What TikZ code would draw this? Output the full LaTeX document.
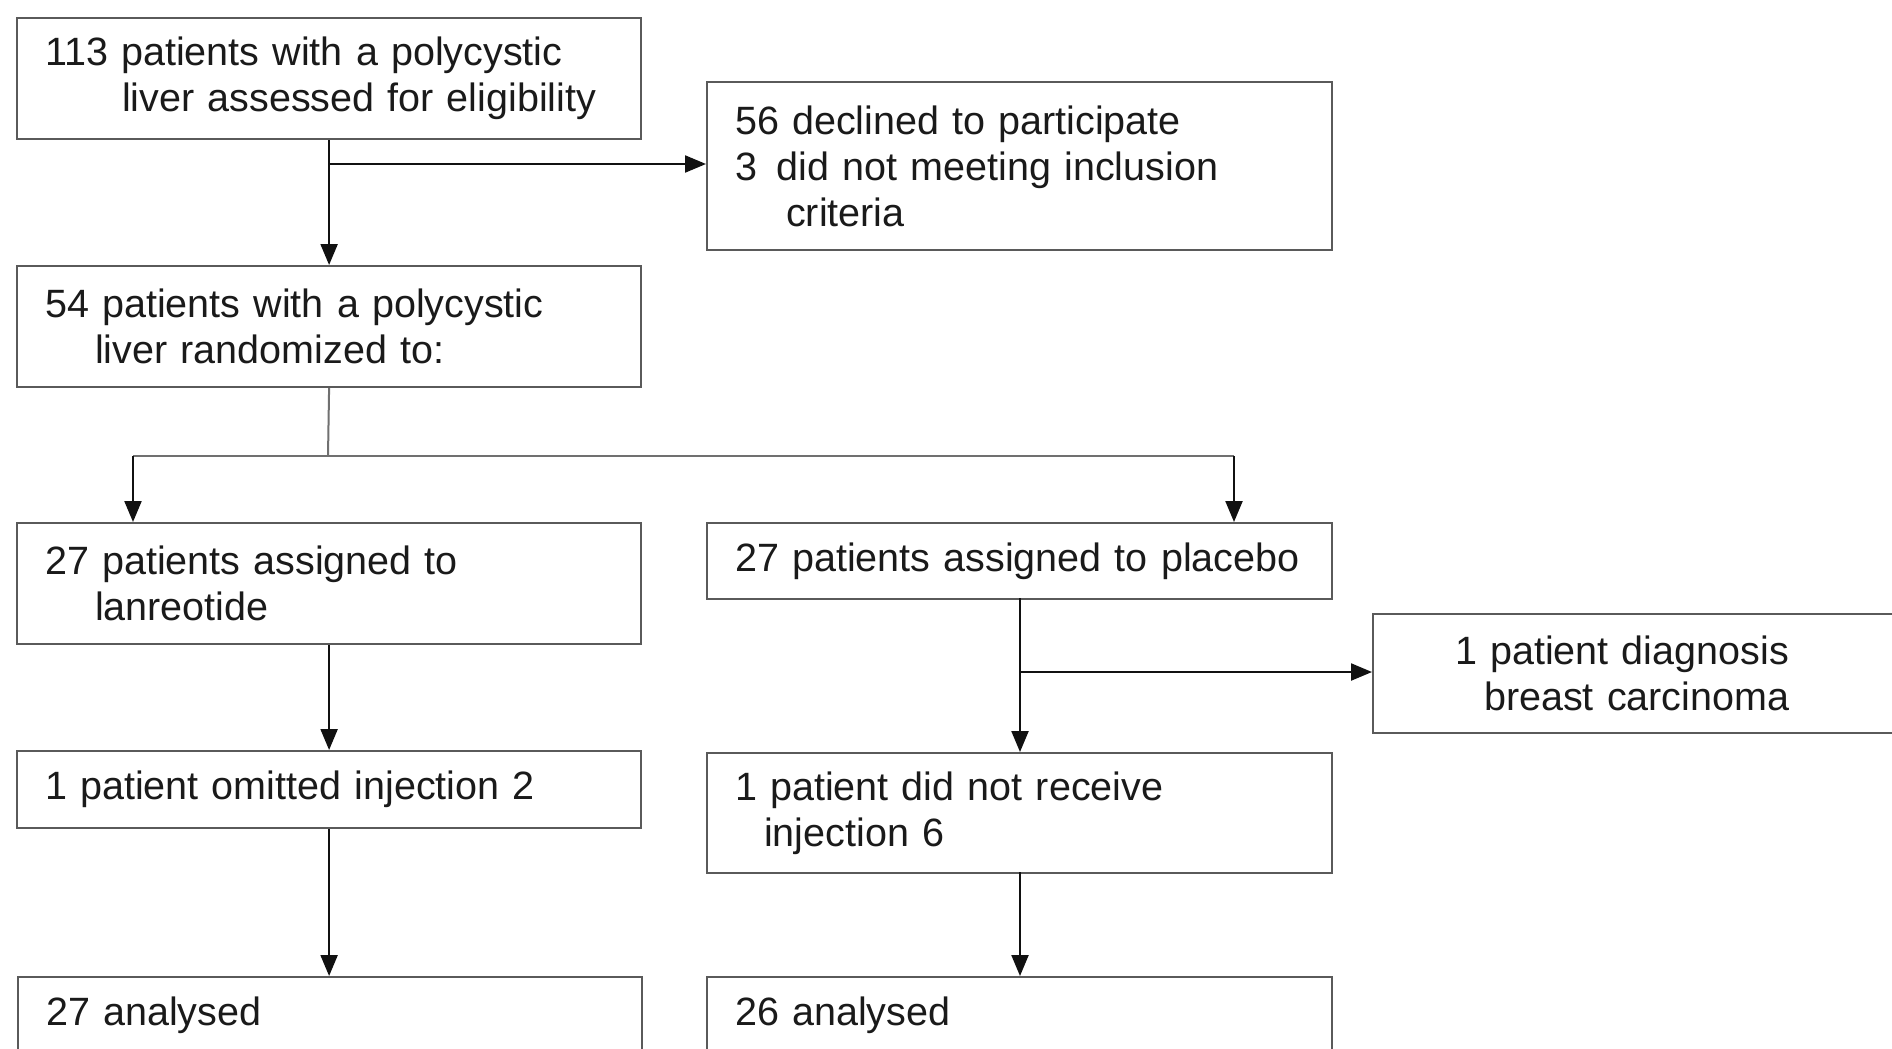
\documentclass[tikz,border=0pt]{standalone}
\usepackage{fontspec}
\setmainfont{Liberation Sans}
\usetikzlibrary{arrows.meta}
\definecolor{boxgray}{HTML}{5A5A5A}
\definecolor{txt}{HTML}{1A1A1A}
\definecolor{conn}{HTML}{111111}
\definecolor{lconn}{HTML}{707070}
\begin{document}
\begin{tikzpicture}[x=1pt,y=-1pt,
  box/.style={draw=boxgray, line width=2.2pt, anchor=north west, align=left,
    inner xsep=28pt, inner ysep=0pt, text=txt,
    font=\fontsize{39.5pt}{46pt}\selectfont},
  lbox/.style={box, text width=568pt},
  rbox/.style={box, text width=569pt},
  arr/.style={draw=conn, line width=2.2pt, -{Triangle[length=21pt,width=17pt]}},
  ln/.style={draw=lconn, line width=2pt}]
\useasboundingbox (0,0) rectangle (1892,1049);
\fill[white] (0,0) rectangle (1892,1049);
\clip (0,0) rectangle (1892,1049);

\node[lbox, minimum height=121pt] (b1) at (16,17)
  {113 patients with a polycystic\\\hspace*{77pt}liver assessed  for eligibility};
\node[rbox, minimum height=168pt] (b56) at (706,81)
  {56 declined to participate\\3\, did not meeting inclusion\\\hspace*{51pt}criteria};
\node[lbox, minimum height=121pt] (b2) at (16,265)
  {54 patients with a polycystic\\\hspace*{50pt}liver randomized  to:};
\node[lbox, minimum height=121pt] (b3) at (16,522)
  {27 patients assigned to\\\hspace*{50pt}lanreotide};
\node[rbox, minimum height=76pt] (b4) at (706,522)
  {27 patients assigned to placebo};
\node[box, inner xsep=82pt, text width=460pt, minimum height=119pt] (b9) at (1372,613)
  {1 patient diagnosis\\\hspace*{29pt}breast carcinoma};
\node[lbox, minimum height=77pt] (b5) at (16,750)
  {1 patient omitted injection 2};
\node[rbox, minimum height=120pt] (b6) at (706,752)
  {1 patient did not receive\\\hspace*{29pt}injection 6};
\node[lbox, minimum height=77pt] (b7) at (17,976) {27 analysed};
\node[rbox, minimum height=77pt] (b8) at (706,976) {26 analysed};

% top flow
\draw[arr] (b1.south) -- (b2.north);
\coordinate (j1) at (328,164);
\draw[arr] (j1) -- (j1 -| b56.west);

% randomization split
\coordinate (sp) at (328,456);
\coordinate (sl) at (133,456);
\coordinate (sr) at (1234,456);
\draw[ln] (b2.south) -- (sp);
\draw[ln] (sl) -- (sr);
\draw[arr] (sl) -- (sl |- b3.north);
\draw[arr] (sr) -- (sr |- b4.north);

% left arm
\draw[arr] (b3.south) -- (b5.north);
\draw[arr] (b5.south) -- (b5.south |- b7.north);

% right arm
\coordinate (p1) at (1020,598);
\draw[arr] (p1) -- (p1 |- b6.north);
\coordinate (j2) at (1020,672);
\draw[arr] (j2) -- (j2 -| b9.west);
\coordinate (p2) at (1020,872);
\draw[arr] (p2) -- (p2 |- b8.north);
\end{tikzpicture}
\end{document}
